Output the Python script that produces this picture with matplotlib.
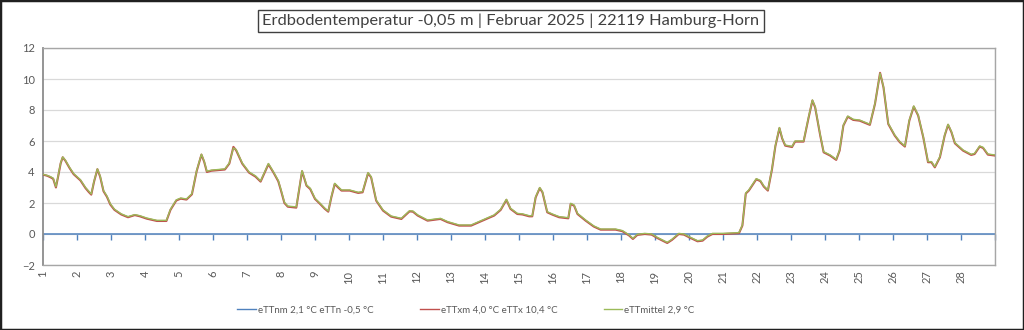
import matplotlib
matplotlib.use("Agg")
import matplotlib.pyplot as plt
from matplotlib.lines import Line2D
from matplotlib.patches import Rectangle

# ---------------- data ----------------
title = "Erdbodentemperatur -0,05 m | Februar 2025 | 22119 Hamburg-Horn"
day_ticks = list(range(1, 29))
y_ticks = [-2, 0, 2, 4, 6, 8, 10, 12]

zeit_tag = [
    1.00, 1.12, 1.22, 1.30, 1.38, 1.45, 1.52, 1.58, 1.66, 1.78, 1.90,
    2.10, 2.25, 2.35, 2.42, 2.50, 2.60, 2.68, 2.78, 2.88, 2.98,
    3.10, 3.30, 3.50, 3.70, 3.85, 4.05, 4.35, 4.63, 4.75, 4.92,
    5.05, 5.22, 5.38, 5.52, 5.66, 5.74, 5.82, 5.95, 6.35, 6.48, 6.60, 6.68, 6.86,
    7.06, 7.25, 7.40, 7.63, 7.78, 7.92, 8.00, 8.10, 8.20, 8.45, 8.62, 8.75, 8.86,
    9.00, 9.15, 9.29, 9.39, 9.48, 9.58, 9.68, 9.78, 10.02, 10.27, 10.40, 10.56,
    10.65, 10.80, 11.00, 11.24, 11.54, 11.78, 11.88, 12.02, 12.31, 12.69, 12.90,
    13.24, 13.59, 13.88, 14.27, 14.46, 14.63, 14.75, 14.95, 15.10, 15.30, 15.39,
    15.49, 15.61, 15.69, 15.83, 15.98, 16.18, 16.45, 16.52, 16.62, 16.72, 16.96,
    17.20, 17.40, 17.84, 18.04, 18.24, 18.35, 18.48, 18.70, 18.90, 19.07, 19.36,
    19.50, 19.70, 19.85, 20.00, 20.25, 20.40, 20.54, 20.69, 21.00, 21.47, 21.57,
    21.67, 21.76, 21.98, 22.10, 22.20, 22.32, 22.44, 22.54, 22.66, 22.74, 22.83,
    23.03, 23.12, 23.37, 23.52, 23.63, 23.71, 23.86, 23.96, 24.15, 24.33, 24.43,
    24.54, 24.67, 24.83, 25.02, 25.32, 25.47, 25.62, 25.72, 25.86, 26.05, 26.20,
    26.35, 26.48, 26.61, 26.74, 26.89, 27.03, 27.13, 27.23, 27.38, 27.52, 27.62,
    27.72, 27.82, 28.06, 28.30, 28.40, 28.55, 28.65, 28.79, 29.00,
]

tt_mittel = [
    3.85, 3.78, 3.70, 3.60, 3.05, 3.80, 4.60, 4.97, 4.75, 4.30, 3.90,
    3.50, 3.00, 2.75, 2.58, 3.40, 4.20, 3.75, 2.80, 2.45, 1.95,
    1.60, 1.30, 1.12, 1.25, 1.18, 1.03, 0.88, 0.88, 1.60, 2.20,
    2.32, 2.26, 2.60, 4.10, 5.15, 4.70, 4.05, 4.12, 4.20, 4.58, 5.55, 5.45, 4.58,
    4.00, 3.75, 3.42, 4.55, 4.00, 3.45, 2.85, 2.05, 1.80, 1.75, 4.09, 3.16, 2.95,
    2.30, 1.98, 1.66, 1.48, 2.40, 3.27, 3.05, 2.84, 2.84, 2.69, 2.73, 3.96,
    3.70, 2.19, 1.55, 1.16, 1.01, 1.50, 1.48, 1.23, 0.90, 1.01, 0.80,
    0.58, 0.58, 0.86, 1.23, 1.59, 2.24, 1.66, 1.33, 1.30, 1.18, 1.18,
    2.40, 3.00, 2.73, 1.44, 1.29, 1.12, 1.05, 1.98, 1.87, 1.33, 0.90,
    0.52, 0.32, 0.32, 0.22, -0.06, -0.28, -0.02, 0.04, 0.00, -0.22, -0.54,
    -0.34, 0.04, 0.00, -0.17, -0.43, -0.39, -0.13, 0.04, 0.04, 0.09, 0.58,
    2.65, 2.84, 3.57, 3.45, 3.10, 2.84, 4.20, 5.70, 6.87, 6.20, 5.74,
    5.65, 6.00, 6.00, 7.57, 8.65, 8.21, 6.39, 5.31, 5.10, 4.82, 5.42,
    7.03, 7.61, 7.40, 7.35, 7.08, 8.43, 10.37, 9.50, 7.14, 6.39, 5.96,
    5.68, 7.35, 8.26, 7.68, 6.28, 4.67, 4.67, 4.34, 4.99, 6.39, 7.08,
    6.60, 5.89, 5.42, 5.14, 5.20, 5.68, 5.59, 5.16, 5.10,
]

# the maximum curve lies almost exactly on the mean curve in the picture
tt_max = [
    3.83, 3.76, 3.66, 3.56, 3.00, 3.76, 4.56, 4.95, 4.72, 4.26, 3.86,
    3.46, 2.96, 2.70, 2.54, 3.36, 4.18, 3.70, 2.76, 2.40, 1.90,
    1.56, 1.26, 1.08, 1.22, 1.14, 0.99, 0.84, 0.84, 1.56, 2.16,
    2.28, 2.22, 2.56, 4.06, 5.12, 4.66, 4.00, 4.08, 4.16, 4.54, 5.62, 5.40, 4.54,
    3.96, 3.70, 3.38, 4.50, 3.96, 3.40, 2.80, 2.00, 1.76, 1.70, 4.05, 3.12, 2.90,
    2.26, 1.94, 1.62, 1.44, 2.36, 3.23, 3.00, 2.80, 2.80, 2.65, 2.69, 3.92,
    3.66, 2.15, 1.51, 1.12, 0.97, 1.46, 1.44, 1.19, 0.86, 0.97, 0.76,
    0.54, 0.54, 0.82, 1.19, 1.55, 2.20, 1.62, 1.29, 1.26, 1.14, 1.14,
    2.36, 2.96, 2.69, 1.40, 1.25, 1.08, 1.01, 1.94, 1.83, 1.29, 0.86,
    0.48, 0.28, 0.28, 0.18, -0.10, -0.32, -0.06, 0.00, -0.04, -0.26, -0.58,
    -0.38, 0.00, -0.04, -0.21, -0.47, -0.43, -0.17, 0.00, 0.00, 0.05, 0.54,
    2.61, 2.80, 3.53, 3.41, 3.06, 2.80, 4.16, 5.66, 6.83, 6.16, 5.70,
    5.61, 5.96, 5.96, 7.53, 8.61, 8.17, 6.35, 5.27, 5.06, 4.78, 5.38,
    6.99, 7.57, 7.36, 7.31, 7.04, 8.39, 10.40, 9.46, 7.10, 6.35, 5.92,
    5.64, 7.31, 8.22, 7.64, 6.24, 4.63, 4.63, 4.30, 4.95, 6.35, 7.04,
    6.56, 5.85, 5.38, 5.10, 5.16, 5.64, 5.55, 5.12, 5.06,
]

legend_labels = ["eTTnm 2,1 °C eTTn -0,5 °C",
                 "eTTxm 4,0 °C eTTx 10,4 °C",
                 "eTTmittel 2,9 °C"]

# ---------------- style ----------------
c_blue = "#4F81BD"
c_red = "#C0504D"
c_green = "#9BBB59"
c_text = "#595959"
c_grid = "#D9D9D9"
plt.rcParams["font.family"] = ["Lato", "DejaVu Sans"]

fig = plt.figure(figsize=(10.24, 3.30), dpi=100)
ax = fig.add_axes([43 / 1024, 1 - 265 / 330, (995 - 43) / 1024, (265 - 48) / 330])

ax.plot(zeit_tag, tt_max, color=c_red, lw=1.5, zorder=3)
ax.plot(zeit_tag, tt_mittel, color=c_green, lw=1.0, zorder=4)

ax.set_xlim(1, 29)
ax.set_ylim(-2, 12)
ax.set_yticks(y_ticks)
ax.set_xticks(day_ticks)
ax.set_xticklabels([str(d) for d in day_ticks], rotation=90)
ax.set_xticks(list(range(1, 30)), minor=True)
ax.grid(True, which="minor", axis="x", color=c_grid, lw=0.9, zorder=0)
ax.grid(True, which="major", axis="y", color=c_grid, lw=0.9, zorder=0)
ax.tick_params(axis="x", which="both", length=0, pad=4, labelsize=8, labelcolor=c_text)
ax.tick_params(axis="y", length=0, pad=6, labelsize=8, labelcolor=c_text)
for s in ax.spines.values():
    s.set_color("#A6A6A6")
    s.set_linewidth(1.0)
ax.spines["left"].set_color("#8C8C8C")
ax.spines["left"].set_linewidth(1.3)

# horizontal axis line crossing at 0 (blue, with day ticks)
ax.axhline(0, color=c_blue, lw=1.1, zorder=2.5)
sec = ax.secondary_xaxis(2 / 14)
sec.set_xticks(list(range(1, 30)))
sec.tick_params(axis="x", direction="out", length=4, width=1, color=c_blue,
                labelbottom=False)
sec.spines["bottom"].set_visible(False)

# title box
fig.text(511 / 1024, 1 - 21 / 330, title, ha="center", va="center",
         fontsize=11.8, color="#404040",
         bbox=dict(boxstyle="square,pad=0.25", fc="white", ec="#404040", lw=1.0))

# legend
handles = [Line2D([], [], color=c_blue, lw=1.0),
           Line2D([], [], color=c_red, lw=1.0),
           Line2D([], [], color=c_green, lw=1.0)]
fig.legend(handles, legend_labels, loc="center", ncol=3,
           bbox_to_anchor=(466 / 1024, 1 - 310 / 330), frameon=False,
           fontsize=7.0, labelcolor=c_text, handlelength=1.9, handletextpad=0.2,
           columnspacing=4.8)

# outer frame
fig.patches.append(Rectangle((0, 0), 1, 1, transform=fig.transFigure,
                             fill=False, ec="#202020", lw=2.5))

fig.savefig("out.png", dpi=100)
